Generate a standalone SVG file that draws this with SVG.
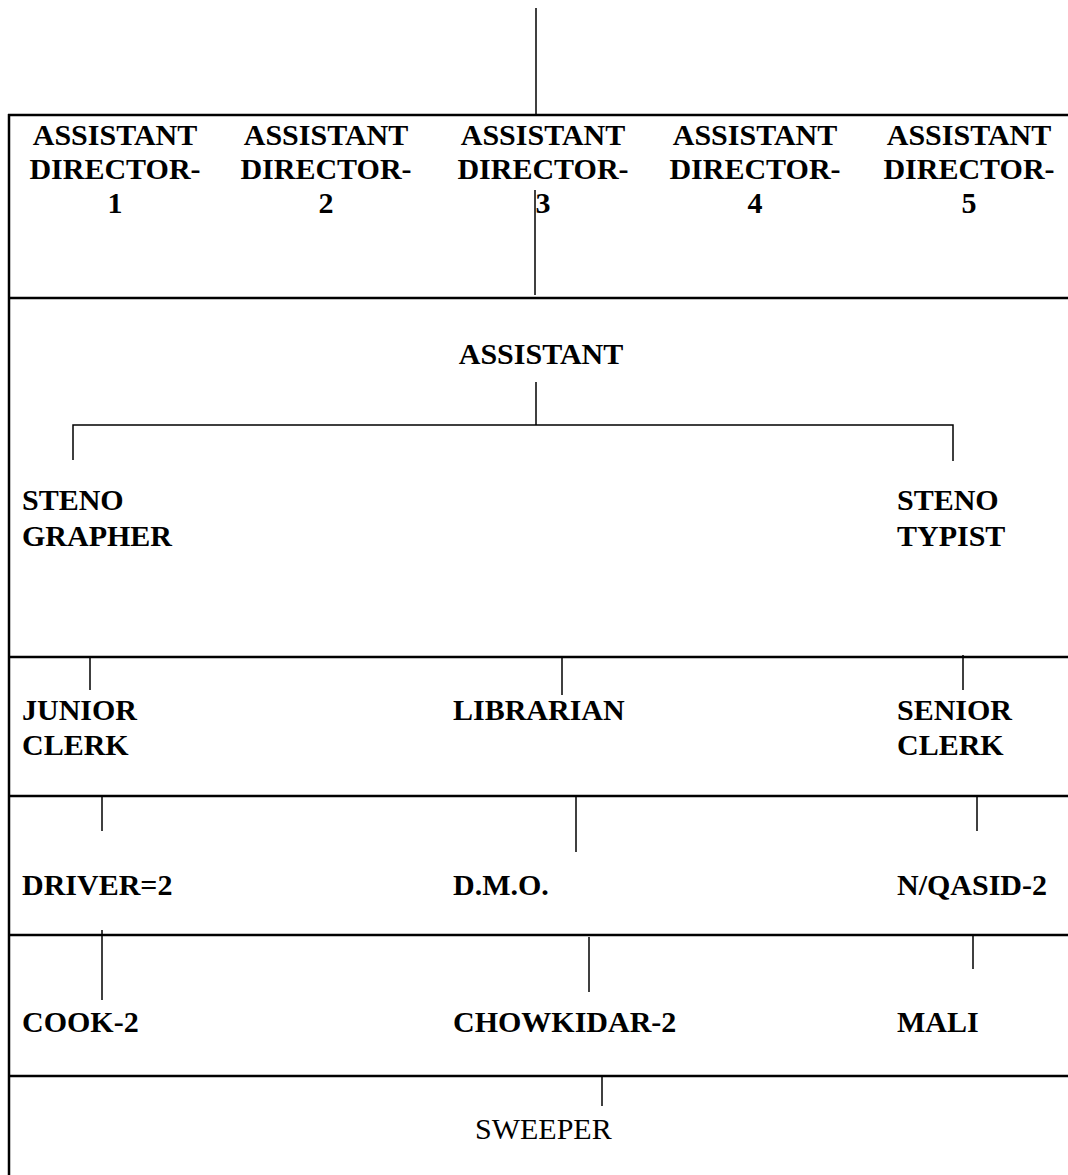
<svg xmlns="http://www.w3.org/2000/svg" width="1068" height="1175" viewBox="0 0 1068 1175">
<style>
.b{font-family:"Liberation Serif","Times New Roman",serif;font-weight:bold;font-size:30px;fill:#000}
.r{font-family:"Liberation Serif","Times New Roman",serif;font-size:30px;fill:#000}
.c{text-anchor:middle}
.grid line{stroke:#000;stroke-width:2.5}
.conn line, .conn path{stroke:#000;stroke-width:1.5;fill:none}
</style>
<rect width="1068" height="1175" fill="#fff"/>
<g class="grid">
<line x1="9" y1="114" x2="9" y2="1175"/>
<line x1="8" y1="115" x2="1068" y2="115"/>
<line x1="8" y1="298" x2="1068" y2="298"/>
<line x1="8" y1="657" x2="1068" y2="657"/>
<line x1="8" y1="796" x2="1068" y2="796"/>
<line x1="8" y1="935" x2="1068" y2="935"/>
<line x1="8" y1="1076" x2="1068" y2="1076"/>
</g>
<g class="conn">
<line x1="536" y1="8" x2="536" y2="115"/>
<line x1="535" y1="190" x2="535" y2="295"/>
<line x1="536" y1="382" x2="536" y2="425"/>
<path d="M73 460 V425 H953 V461"/>
<line x1="90" y1="657" x2="90" y2="690"/>
<line x1="562" y1="657" x2="562" y2="695"/>
<line x1="963" y1="655" x2="963" y2="690"/>
<line x1="102" y1="796" x2="102" y2="831"/>
<line x1="576" y1="796" x2="576" y2="852"/>
<line x1="977" y1="796" x2="977" y2="831"/>
<line x1="102" y1="930" x2="102" y2="1000"/>
<line x1="589" y1="937" x2="589" y2="992"/>
<line x1="973" y1="935" x2="973" y2="969"/>
<line x1="602" y1="1076" x2="602" y2="1106"/>
</g>
<g id="ad1"><text class="b c" x="115" y="145">ASSISTANT</text><text class="b c" x="115" y="179">DIRECTOR-</text><text class="b c" x="115" y="213">1</text></g>
<g id="ad2"><text class="b c" x="326" y="145">ASSISTANT</text><text class="b c" x="326" y="179">DIRECTOR-</text><text class="b c" x="326" y="213">2</text></g>
<g id="ad3"><text class="b c" x="543" y="145">ASSISTANT</text><text class="b c" x="543" y="179">DIRECTOR-</text><text class="b c" x="543" y="213">3</text></g>
<g id="ad4"><text class="b c" x="755" y="145">ASSISTANT</text><text class="b c" x="755" y="179">DIRECTOR-</text><text class="b c" x="755" y="213">4</text></g>
<g id="ad5"><text class="b c" x="969" y="145">ASSISTANT</text><text class="b c" x="969" y="179">DIRECTOR-</text><text class="b c" x="969" y="213">5</text></g>
<g id="assistant"><text class="b c" x="541" y="364">ASSISTANT</text></g>
<g id="stenographer"><text class="b" x="22" y="510">STENO</text><text class="b" x="22" y="546">GRAPHER</text></g>
<g id="stenotypist"><text class="b" x="897" y="510">STENO</text><text class="b" x="897" y="546">TYPIST</text></g>
<g id="juniorclerk"><text class="b" x="22" y="720">JUNIOR</text><text class="b" x="22" y="755">CLERK</text></g>
<g id="librarian"><text class="b" x="453" y="720">LIBRARIAN</text></g>
<g id="seniorclerk"><text class="b" x="897" y="720">SENIOR</text><text class="b" x="897" y="755">CLERK</text></g>
<g id="driver"><text class="b" x="22" y="895">DRIVER=2</text></g>
<g id="dmo"><text class="b" x="453" y="895">D.M.O.</text></g>
<g id="nqasid"><text class="b" x="897" y="895">N/QASID-2</text></g>
<g id="cook"><text class="b" x="22" y="1032">COOK-2</text></g>
<g id="chowkidar"><text class="b" x="453" y="1032">CHOWKIDAR-2</text></g>
<g id="mali"><text class="b" x="897" y="1032">MALI</text></g>
<g id="sweeper"><text class="r" x="475" y="1139">SWEEPER</text></g>
</svg>
